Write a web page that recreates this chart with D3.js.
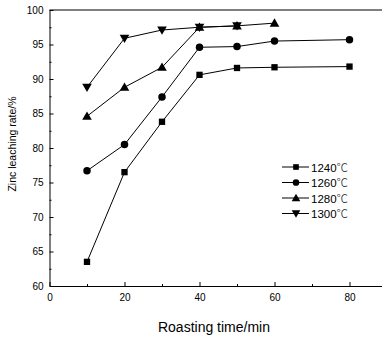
<!DOCTYPE html>
<html>
<head>
<meta charset="utf-8">
<script src="https://cdn.jsdelivr.net/npm/d3@7"></script>
<style>
  body { margin: 0; background: #fff; }
  svg { display: block; font-family: "Liberation Sans", Arial, sans-serif; }
</style>
</head>
<body>
<svg id="chart" width="382" height="338"></svg>
<script>
// roasting times (min)
const times = [10, 20, 30, 40, 50, 60, 80];
const seriesNames = ['1240', '1260', '1280', '1300'];
const s1240 = [63.5, 76.5, 83.8, 90.6, 91.6, 91.7, 91.8];
const s1260 = [76.7, 80.5, 87.4, 94.6, 94.7, 95.5, 95.7];
const s1280 = [84.6, 88.8, 91.7, 97.5, 97.7, 98.1];
const s1300 = [88.8, 95.9, 97.1, 97.5, 97.7];
const xTicks = [0, 20, 40, 60, 80];
const yTicks = [60, 65, 70, 75, 80, 85, 90, 95, 100];

const symbols = [d3.symbolSquare, d3.symbolCircle, d3.symbolTriangle, d3.symbolTriangle];
const symSize = [40, 44, 40, 40];
const symRot = [0, 0, 0, 180];

const svg = d3.select('#chart');
const margin = { left: 49.5, top: 10, bottom: 286 };

const x = d3.scaleLinear().domain([0, 90]).range([margin.left, 387]);
const y = d3.scaleLinear().domain([60, 100]).range([margin.bottom, margin.top]);

// frame top line
svg.append('line')
  .attr('x1', margin.left).attr('x2', 387)
  .attr('y1', margin.top).attr('y2', margin.top)
  .attr('stroke', '#000').attr('stroke-width', 1);

// X axis
const xAxis = svg.append('g')
  .attr('transform', `translate(0, ${margin.bottom})`)
  .call(d3.axisBottom(x).tickValues(xTicks).tickSizeInner(-4).tickSizeOuter(0).tickPadding(8));
svg.append('g')
  .attr('transform', `translate(0, ${margin.bottom})`)
  .call(d3.axisBottom(x).tickValues([10, 30, 50, 70]).tickSizeInner(-2).tickSizeOuter(0).tickFormat(''))
  .select('.domain').remove();
xAxis.selectAll('text').attr('font-size', 10).attr('font-family', 'Liberation Sans, Arial, sans-serif');

// Y axis
const yAxis = svg.append('g')
  .attr('transform', `translate(${margin.left}, 0)`)
  .call(d3.axisLeft(y).tickValues(yTicks).tickSizeInner(-4).tickSizeOuter(0).tickPadding(6));
svg.append('g')
  .attr('transform', `translate(${margin.left}, 0)`)
  .call(d3.axisLeft(y).tickValues(d3.range(62.5, 100, 5)).tickSizeInner(-2).tickSizeOuter(0).tickFormat(''))
  .select('.domain').remove();
yAxis.selectAll('text').attr('font-size', 10).attr('font-family', 'Liberation Sans, Arial, sans-serif');

svg.selectAll('.domain').attr('stroke', '#000');
svg.selectAll('.tick line').attr('stroke', '#000');

// axis titles
svg.append('text')
  .attr('x', 214).attr('y', 332)
  .attr('text-anchor', 'middle')
  .attr('font-size', 14)
  .text('Roasting time/min');

svg.append('text')
  .attr('transform', 'translate(16, 144) rotate(-90)')
  .attr('text-anchor', 'middle')
  .attr('font-size', 10.5)
  .text('Zinc leaching rate/%');

// series
const allSeries = [s1240, s1260, s1280, s1300];
const line = d3.line().x(d => x(d.t)).y(d => y(d.v));

allSeries.forEach((vals, i) => {
  const pts = vals.map((v, j) => ({ t: times[j], v: v }));
  svg.append('path')
    .datum(pts)
    .attr('d', line)
    .attr('fill', 'none')
    .attr('stroke', '#000')
    .attr('stroke-width', 1);
  svg.selectAll(null)
    .data(pts)
    .enter()
    .append('path')
    .attr('d', d3.symbol().type(symbols[i]).size(symSize[i]))
    .attr('transform', d => `translate(${x(d.t)}, ${y(d.v) + (symbols[i] === d3.symbolTriangle ? (symRot[i] ? -0.8 : 0.8) : 0)}) rotate(${symRot[i]})`)
    .attr('fill', '#000');
});

// legend
const legend = svg.append('g').attr('transform', 'translate(282, 167)');
seriesNames.forEach((name, i) => {
  const g = legend.append('g').attr('transform', `translate(0, ${i * 15.5})`);
  g.append('line').attr('x1', 0).attr('x2', 27).attr('y1', 0).attr('y2', 0)
    .attr('stroke', '#000').attr('stroke-width', 1);
  g.append('path')
    .attr('d', d3.symbol().type(symbols[i]).size(symSize[i] * 0.8))
    .attr('transform', `translate(14, ${symbols[i] === d3.symbolTriangle ? (symRot[i] ? -0.7 : 0.7) : 0}) rotate(${symRot[i]})`)
    .attr('fill', '#000');
  const t = g.append('text')
    .attr('x', 29).attr('y', 4.5)
    .attr('font-size', 11.5)
    .text(name);
  t.append('tspan')
    .attr('font-family', '"Noto Sans CJK SC", sans-serif')
    .attr('font-weight', 300)
    .attr('fill', '#222')
    .text('\u2103');
});
</script>
</body>
</html>
